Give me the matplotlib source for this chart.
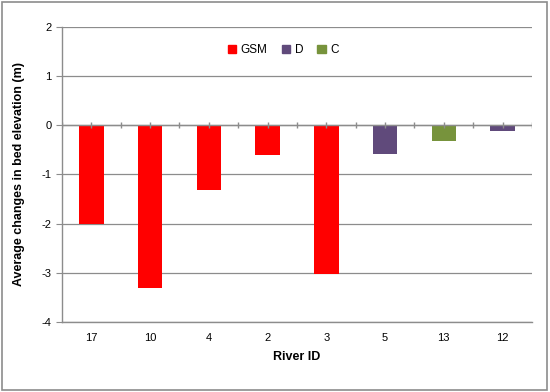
import numpy as np
import matplotlib.pyplot as plt
from matplotlib.patches import Patch, Rectangle

plt.rcParams['font.family'] = ['Liberation Sans', 'DejaVu Sans']
plt.rcParams['axes.unicode_minus'] = False

# River IDs and mean bed elevation change
river_ids = ['17', '10', '4', '2', '3', '5', '13', '12']
changes = [-2.0, -3.3, -1.32, -0.61, -3.02, -0.58, -0.32, -0.12]
groups = ['GSM', 'GSM', 'GSM', 'GSM', 'GSM', 'D', 'C', 'D']

group_names = ['GSM', 'D', 'C']
group_colors = {'GSM': '#FF0000', 'D': '#604A7B', 'C': '#77933C'}

fig = plt.figure(figsize=(5.5, 3.92), dpi=100)
ax = fig.add_axes([0.1127, 0.1786, 0.8545, 0.7525])

x = np.arange(len(river_ids))
cols = [group_colors[g] for g in groups]
ax.bar(x, changes, width=0.42, color=cols, zorder=3)

ax.set_xlim(-0.5, len(river_ids) - 0.5)
ax.set_ylim(-4, 2)
ax.set_yticks(range(-4, 3))
ax.yaxis.grid(True, color='#8C8C8C', linewidth=0.9, zorder=0)

# zero axis line with tick marks
ax.axhline(0, color='#8C8C8C', linewidth=1.0, zorder=4)
half = np.arange(-0.5, len(river_ids), 0.5)
ax.vlines(half, -0.06, 0.06, color='#8C8C8C', linewidth=1.0, zorder=4)

for s in ['top', 'right']:
    ax.spines[s].set_visible(False)
for s in ['left', 'bottom']:
    ax.spines[s].set_color('#8C8C8C')
    ax.spines[s].set_linewidth(1.0)

ax.set_xticks(x)
ax.set_xticklabels(river_ids)
ax.tick_params(axis='x', length=0, pad=8, labelsize=8)
ax.tick_params(axis='y', length=4, color='#8C8C8C', labelsize=8)

ax.set_xlabel('River ID', fontsize=9, fontweight='bold', labelpad=6)
ax.set_ylabel('Average changes in bed elevation (m)', fontsize=9, fontweight='bold', labelpad=12)

handles = [Patch(color=group_colors[g], label=g) for g in group_names]
fig.legend(handles=handles, loc='center', bbox_to_anchor=(0.515, 0.872), ncol=3,
           frameon=False, fontsize=8.5, handlelength=0.7, handleheight=0.7,
           handletextpad=0.4, columnspacing=1.2)

fig.patches.append(Rectangle((0.004, 0.005), 0.99, 0.99, transform=fig.transFigure,
                             fill=False, edgecolor='#8C8C8C', linewidth=1.2))

fig.savefig('out.png', dpi=100)
